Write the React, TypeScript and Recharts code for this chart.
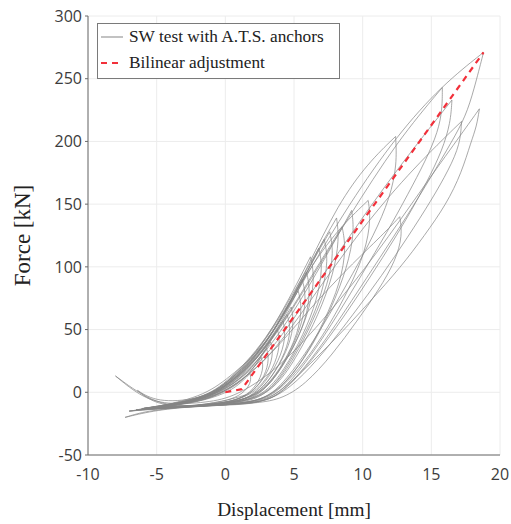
import { LineChart, Line, XAxis, YAxis, CartesianGrid } from "recharts";

// ── data ──────────────────────────────────────────────────────

type Pt = [number, number];

const xTicks = [-10, -5, 0, 5, 10, 15, 20];
const yTicks = [-50, 0, 50, 100, 150, 200, 250, 300];

// hysteresis cycles [displacement mm, force kN], loading up to the peak, then unloading
const cycle01: Pt[] = [[-4.5, -11], [-2, -8], [0, -1], [1, 6], [1.8, 15], [1.9, 9], [1.5, 1], [0.5, -6], [-1.5, -10], [-4.6, -12]];
const cycle02: Pt[] = [[-4.6, -12], [-2, -8], [0, 0], [1.5, 11], [2.6, 28], [2.8, 21], [2.5, 9], [1.6, -3], [0, -9], [-2.5, -11], [-4.8, -12]];
const cycle03: Pt[] = [[-4.8, -12], [-2, -7], [0, 2], [2, 19], [3.3, 40], [3.5, 32], [3.2, 18], [2.3, 3], [1, -7], [-2, -11], [-5, -12]];
const cycle03b: Pt[] = [[-5, -12], [-2.5, -8], [0, 0], [1.8, 14], [3, 35], [3.2, 27], [2.9, 13], [2, 0], [0.5, -8], [-2.5, -11], [-5, -12.5]];
const cycle04: Pt[] = [[-5, -12], [-2, -7], [0, 3], [2.2, 24], [4.2, 57], [4.4, 46], [4.1, 30], [3.2, 12], [2, -3], [0.5, -9], [-2.5, -11], [-5.2, -13]];
const cycle04b: Pt[] = [[-5.2, -13], [-2.5, -8], [0, 1], [2.2, 21], [3.8, 50], [4, 40], [3.7, 24], [2.8, 7], [1.5, -5], [-1, -10], [-5.2, -13]];
const cycle05: Pt[] = [[-5.2, -13], [-2, -7], [0, 2], [2.5, 27], [4.8, 68], [5, 56], [4.7, 38], [3.7, 17], [2.5, 0], [1, -8], [-2.5, -11], [-5.3, -13]];
const cycle05b: Pt[] = [[-5.3, -13], [-2, -6], [0, 4], [2.3, 26], [4.5, 62], [4.8, 50], [4.4, 32], [3.4, 12], [2.2, -2], [0.5, -9], [-3, -12], [-5.3, -13]];
const cycle06: Pt[] = [[-5.3, -13], [-2, -6], [0, 4], [2.6, 31], [5.3, 81], [5.6, 68], [5.3, 47], [4.3, 24], [3, 4], [1.5, -7], [-2, -11], [-5.5, -13]];
const cycle07: Pt[] = [[-5.5, -13], [-2, -6], [0, 4], [3, 36], [5.9, 96], [6.2, 82], [5.9, 58], [4.8, 32], [3.5, 9], [2, -6], [-1, -10], [-5.6, -13]];
const cycle07b: Pt[] = [[-5.6, -13], [-2, -7], [0, 3], [2.8, 33], [5.6, 90], [5.9, 76], [5.6, 54], [4.6, 29], [3.3, 7], [1.8, -6], [-1.5, -10], [-5.6, -13]];
const cycle08: Pt[] = [[-5.6, -13], [-2, -6], [0, 5], [3, 39], [6.2, 108], [6.5, 93], [6.2, 68], [5.2, 40], [3.8, 14], [2.3, -5], [0, -10], [-4, -12], [-6, -13]];
const cycle09: Pt[] = [[-6, -13], [-2, -6], [0, 5], [3, 38], [5.3, 82], [7.2, 122], [7.5, 106], [7.1, 80], [6, 50], [4.5, 20], [3, -3], [1, -9], [-3, -12], [-6, -13]];
const cycle09b: Pt[] = [[-6, -13], [-2, -7], [0, 3], [3, 35], [5.2, 78], [6.8, 115], [7.1, 100], [6.7, 74], [5.7, 46], [4.3, 18], [2.8, -3], [0.5, -9], [-3, -12], [-6, -13]];
const cycle10: Pt[] = [[-6, -13], [-2, -6], [0, 6], [3, 41], [5.6, 92], [8.1, 139], [8.3, 122], [7.9, 95], [6.8, 62], [5.3, 30], [3.8, 5], [2, -7], [-1, -10], [-4, -12], [-6, -13]];
const cycle10b: Pt[] = [[-6, -13], [-2, -7], [0, 4], [3, 37], [5.5, 88], [7.6, 128], [7.9, 112], [7.5, 87], [6.4, 57], [5, 27], [3.6, 4], [1.8, -7], [-1, -10], [-6, -13]];
const cycle11: Pt[] = [[-6, -13], [-2, -7], [0, 3], [3, 33], [6, 88], [8.5, 132], [8.8, 115], [8.4, 88], [7.2, 56], [5.7, 26], [4, 2], [2.3, -8], [-1, -10], [-4, -12], [-6, -13]];
const cycle12: Pt[] = [[-6, -13], [-2, -7], [0, 2], [3, 30], [6, 82], [9.2, 145], [9.4, 128], [8.9, 100], [7.7, 66], [6.2, 34], [4.5, 8], [2.7, -7], [0, -10], [-4, -12], [-6.1, -13]];
const cycle13: Pt[] = [[-6.1, -13], [-2, -6], [0, 5], [3, 40], [6, 97], [8.2, 130], [10.4, 153], [10.6, 138], [10.2, 112], [9, 82], [7.5, 52], [5.8, 24], [4, 2], [2.5, -8], [-1, -10], [-6.2, -14]];
const cycle14: Pt[] = [[-6.2, -14], [-2, -5], [0, 9], [2.5, 33], [4, 57], [6, 100], [8.2, 150], [10.4, 183], [12.4, 204], [12.5, 182], [12, 155], [10.8, 125], [9.3, 95], [7.6, 62], [5.8, 30], [4, 4], [2.5, -8], [-1, -11], [-6.5, -14]];
const cycle15: Pt[] = [[-6.5, -14], [-2, -8], [0, 0], [3, 25], [6, 65], [9, 100], [11.5, 126], [12.7, 140], [12.9, 125], [12.4, 105], [11.2, 82], [9.6, 57], [7.8, 30], [5.8, 6], [4, -6], [2, -9], [-2, -11], [-6.5, -14]];
const cycle16: Pt[] = [[-6.5, -14], [-2, -7], [0, 3], [3, 33], [6, 86], [9, 140], [12.5, 200], [15.8, 243], [15.8, 226], [15.5, 208], [14.6, 185], [13.3, 158], [11.8, 128], [10, 95], [8.2, 62], [6.3, 30], [4.5, 5], [3, -7], [0, -10], [-4, -12], [-7, -15]];
const cycle17: Pt[] = [[-7, -15], [-2, -8], [0, 1], [3, 27], [6, 75], [9, 124], [12.5, 178], [16.5, 233], [16.4, 215], [15.8, 193], [14.7, 168], [13.2, 138], [11.5, 108], [9.6, 76], [7.6, 44], [5.6, 16], [3.8, -4], [2, -9], [-2, -11], [-7, -15]];
const cycle18: Pt[] = [[-7, -15], [-2, -8], [0, 0], [3, 24], [6, 70], [10, 132], [13.8, 180], [17.2, 216], [17.1, 198], [16.3, 178], [15, 153], [13.3, 124], [11.4, 93], [9.3, 62], [7.2, 32], [5.2, 8], [3.4, -6], [1.5, -9], [-3, -12], [-5.2, -9], [-6.4, 1.5]];
const cycle19: Pt[] = [[-6.4, 1.5], [-5, -8], [-2, -6], [0, 5], [3, 37], [6, 95], [9, 150], [12.5, 205], [15.8, 245], [18.8, 271], [18.1, 241], [17.5, 220], [16.5, 200], [15, 172], [13.2, 140], [11.3, 108], [9.2, 73], [7.2, 40], [5.3, 13], [3.6, -5], [2, -9], [-2, -11], [-5, -11], [-8, 13]];
const cycle20: Pt[] = [[-8, 13], [-6, -5], [-4, -10], [-1, -8], [1, -2], [4, 20], [7.5, 62], [11, 110], [14.5, 165], [17, 203], [18.5, 226], [18.3, 212], [17.9, 200], [17.2, 175], [16.1, 150], [14.5, 125], [12.8, 100], [10.5, 72], [8.5, 48], [6.4, 25], [4.5, 5], [2.8, -8], [1, -10], [-2, -11], [-5, -14], [-7.3, -20]];
const cycle21: Pt[] = [[-7.3, -20], [-5.7, -14.6], [-3, -12], [0, -7], [1.5, -2]];

const cycles = [cycle01, cycle02, cycle03, cycle03b, cycle04, cycle04b, cycle05, cycle05b, cycle06, cycle07,
  cycle07b, cycle08, cycle09, cycle09b, cycle10, cycle10b, cycle11, cycle12, cycle13, cycle14, cycle15,
  cycle16, cycle17, cycle18, cycle19, cycle20, cycle21];

// bilinear idealisation
const bilinearFit: Pt[] = [[0, 0], [1.2, 2.5], [18.8, 271]];

// ── helpers ───────────────────────────────────────────────────

const toRows = (pts: Pt[]) => pts.map(([x, y]) => ({ x, y }));

// split every loop at its peak so the cusp stays sharp
const branches = cycles.flatMap((pts) => {
  const k = pts.reduce((bi, p, i) => (p[1] > pts[bi][1] ? i : bi), 0);
  return [pts.slice(0, k + 1), pts.slice(k)].filter((b) => b.length > 1);
});

const SERIF = '"Liberation Serif", "Times New Roman", serif';
const tickStyle = { fontFamily: '"Open Sans", sans-serif', fontSize: 16, fill: "#3c3c3c" };
const noTick = () => <g />;
const AXIS = "#6a6a6a";
const TRACE = "#858585";

export default function App() {
  return (
    <div style={{ position: "absolute", left: 0, top: 0, width: 511, height: 524, background: "#fff" }}>
      <LineChart width={511} height={524} margin={{ top: 16, right: 11, bottom: 0, left: 8 }}>
        <CartesianGrid stroke="#ececec" />
        <XAxis
          type="number"
          dataKey="x"
          domain={[-10, 20]}
          ticks={xTicks}
          height={69}
          tick={tickStyle}
          tickSize={0}
          tickMargin={14}
          axisLine={{ stroke: AXIS }}
          allowDuplicatedCategory={false}
          label={{ value: "Displacement [mm]", position: "insideBottom", offset: 8, style: { fontFamily: SERIF, fontSize: 19.3, fill: "#222" } }}
        />
        <XAxis
          xAxisId="top"
          orientation="top"
          type="number"
          domain={[-10, 20]}
          ticks={xTicks}
          height={0}
          mirror
          tick={noTick}
          tickSize={4}
          tickLine={{ stroke: AXIS }}
          axisLine={{ stroke: AXIS }}
        />
        <YAxis
          type="number"
          domain={[-50, 300]}
          ticks={yTicks}
          width={80}
          tick={tickStyle}
          tickSize={3}
          tickMargin={3}
          tickLine={{ stroke: AXIS }}
          axisLine={{ stroke: AXIS }}
          label={{ value: "Force [kN]", angle: -90, position: "insideLeft", offset: 14, style: { fontFamily: SERIF, fontSize: 23, fill: "#222", textAnchor: "middle" } }}
        />
        <YAxis
          yAxisId="right"
          orientation="right"
          type="number"
          domain={[-50, 300]}
          ticks={yTicks}
          width={0}
          mirror
          tick={noTick}
          tickSize={4}
          tickLine={{ stroke: AXIS }}
          axisLine={{ stroke: AXIS }}
        />
        {branches.map((b, i) => (
          <Line
            key={i}
            data={toRows(b)}
            dataKey="y"
            type="basis"
            stroke={TRACE}
            strokeOpacity={0.7}
            strokeWidth={1}
            dot={false}
            activeDot={false}
            isAnimationActive={false}
          />
        ))}
        <Line
          data={toRows(bilinearFit)}
          dataKey="y"
          type="linear"
          stroke="#f2303a"
          strokeWidth={2.2}
          strokeDasharray="6 5"
          dot={false}
          activeDot={false}
          isAnimationActive={false}
        />
      </LineChart>

      {/* legend box, MATLAB style */}
      <div
        style={{
          position: "absolute", left: 97, top: 23, width: 241, height: 54,
          border: "1px solid #7a7a7a", background: "#fff", fontFamily: SERIF, fontSize: 17.3, color: "#222",
        }}
      >
        <div style={{ position: "absolute", left: 3, top: 2, height: 22, display: "flex", alignItems: "center", whiteSpace: "nowrap" }}>
          <svg width={24} height={4}><line x1={0} y1={2} x2={22} y2={2} stroke={TRACE} strokeWidth={1} /></svg>
          <span style={{ marginLeft: 4 }}>SW test with A.T.S. anchors</span>
        </div>
        <div style={{ position: "absolute", left: 3, top: 28, height: 22, display: "flex", alignItems: "center", whiteSpace: "nowrap" }}>
          <svg width={24} height={4}><line x1={0} y1={2} x2={22} y2={2} stroke="#f2303a" strokeWidth={2.2} strokeDasharray="6 5" /></svg>
          <span style={{ marginLeft: 4 }}>Bilinear adjustment</span>
        </div>
      </div>
    </div>
  );
}
